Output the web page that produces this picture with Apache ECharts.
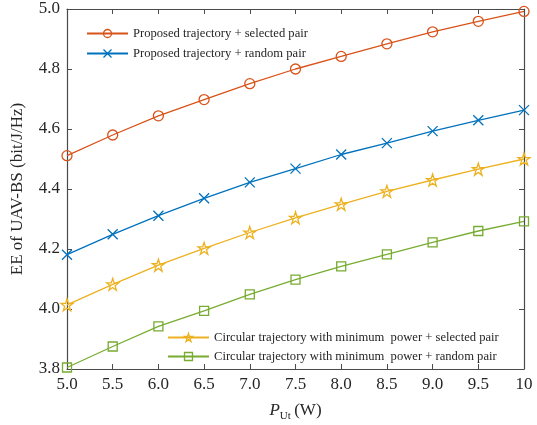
<!DOCTYPE html>
<html>
<head>
<meta charset="utf-8">
<script src="https://cdn.jsdelivr.net/npm/echarts@6/dist/echarts.min.js"></script>
<style>
  html, body { margin: 0; padding: 0; background: #fff; }
  #chart { width: 537px; height: 425px; }
</style>
</head>
<body>
<div id="chart"></div>
<script>
// Transmit power of the UAV-BS (W)
const powerW = [5.0, 5.5, 6.0, 6.5, 7.0, 7.5, 8.0, 8.5, 9.0, 9.5, 10];

// Energy efficiency (bit/J/Hz) for each scheme
const proposedSelected = [4.511, 4.580, 4.644, 4.698, 4.751, 4.800, 4.842, 4.884, 4.924, 4.959, 4.992];
const proposedRandom   = [4.181, 4.249, 4.311, 4.369, 4.422, 4.468, 4.515, 4.553, 4.593, 4.629, 4.663];
const circularSelected = [4.014, 4.082, 4.146, 4.202, 4.255, 4.304, 4.349, 4.392, 4.430, 4.466, 4.500];
const circularRandom   = [3.805, 3.875, 3.942, 3.994, 4.049, 4.098, 4.142, 4.182, 4.222, 4.260, 4.292];

const seriesNames = [
  'Proposed trajectory + selected pair',
  'Proposed trajectory + random pair',
  'Circular trajectory with minimum  power + selected pair',
  'Circular trajectory with minimum  power + random pair'
];

const yTicks = [3.8, 4.0, 4.2, 4.4, 4.6, 4.8, 5.0];

const colors = ['#D95319', '#0072BD', '#EDB120', '#77AC30'];
const FONT = '"Liberation Serif", "Times New Roman", serif';
const AXIS = '#4a4a4a';
const TEXT = '#262626';

const crossPath = 'path://M0,0L10,10M10,0L0,10';
const starPath = 'path://M50,2 L61,36 L97,36 L68,57 L79,92 L50,71 L21,92 L32,57 L3,36 L39,36 Z';

const symbols = ['circle', crossPath, starPath, 'rect'];
const symbolSizes = [10, 10, 12, 9];
const valueSets = [proposedSelected, proposedRandom, circularSelected, circularRandom];

const chart = echarts.init(document.getElementById('chart'), null, { renderer: 'canvas' });

const series = valueSets.map((vals, i) => ({
  name: seriesNames[i],
  type: 'line',
  color: colors[i],
  data: powerW.map((x, k) => [x, vals[k]]),
  symbol: symbols[i],
  symbolSize: symbolSizes[i],
  showAllSymbol: true,
  lineStyle: { color: colors[i], width: 1.3 },
  itemStyle: { color: '#ffffff00', borderColor: colors[i], borderWidth: 1.3 },
  emphasis: { disabled: true },
  animation: false,
  z: 3
}));

// legend entries keep the hollow marker drawn on the line sample
const legendItems = idx => idx.map(i => ({
  name: seriesNames[i],
  itemStyle: { color: '#ffffff00', borderColor: colors[i], borderWidth: 1.3 }
}));

const legendText = { fontFamily: FONT, fontSize: 12.6, color: TEXT };

const axisLineStyle = { lineStyle: { color: AXIS, width: 1.2 } };

chart.setOption({
  backgroundColor: '#fff',
  animation: false,
  grid: { left: 67, right: 13, top: 9, bottom: 56, containLabel: false, outerBoundsMode: 'none' },
  legend: [
    {
      data: legendItems([0, 1]),
      left: 81, top: 22,
      orient: 'vertical',
      itemWidth: 41, itemHeight: 10, itemGap: 7,
      textStyle: legendText,
      selectedMode: false
    },
    {
      data: legendItems([2, 3]),
      left: 162, top: 326,
      orient: 'vertical',
      itemWidth: 41, itemHeight: 10, itemGap: 6,
      textStyle: legendText,
      selectedMode: false
    }
  ],
  xAxis: [
    {
      type: 'value', min: 5, max: 10, interval: 0.5,
      position: 'bottom',
      axisLine: axisLineStyle,
      axisTick: { inside: true, length: 5, lineStyle: { color: AXIS } },
      splitLine: { show: false },
      axisLabel: {
        fontFamily: FONT, fontSize: 17, color: TEXT, margin: 7,
        formatter: v => (v === 10 ? '10' : v.toFixed(1))
      },
      name: '{p|P}{s|Ut} {w|(W)}',
      nameLocation: 'middle',
      nameGap: 30,
      nameTextStyle: {
        rich: {
          p: { fontFamily: FONT, fontSize: 17, fontStyle: 'italic', color: TEXT },
          s: { fontFamily: FONT, fontSize: 11, color: TEXT, verticalAlign: 'bottom', padding: [12, 0, 0, 0] },
          w: { fontFamily: FONT, fontSize: 17, color: TEXT }
        }
      }
    },
    {
      type: 'value', min: 5, max: 10, interval: 0.5,
      position: 'top',
      axisLine: axisLineStyle,
      axisTick: { inside: true, length: 5, lineStyle: { color: AXIS } },
      axisLabel: { show: false },
      splitLine: { show: false }
    }
  ],
  yAxis: [
    {
      type: 'value', min: yTicks[0], max: yTicks[yTicks.length - 1], interval: 0.2,
      position: 'left',
      axisLine: { show: true, ...axisLineStyle },
      axisTick: { show: true, inside: true, length: 5, lineStyle: { color: AXIS } },
      splitLine: { show: false },
      axisLabel: {
        fontFamily: FONT, fontSize: 17, color: TEXT, margin: 7,
        formatter: v => v.toFixed(1)
      },
      name: 'EE of UAV-BS (bit/J/Hz)',
      nameLocation: 'middle',
      nameGap: 41,
      nameTextStyle: { fontFamily: FONT, fontSize: 17, color: TEXT }
    },
    {
      type: 'value', min: yTicks[0], max: yTicks[yTicks.length - 1], interval: 0.2,
      position: 'right',
      axisLine: { show: true, ...axisLineStyle },
      axisTick: { show: true, inside: true, length: 5, lineStyle: { color: AXIS } },
      axisLabel: { show: false },
      splitLine: { show: false }
    }
  ],
  series: series
});
</script>
</body>
</html>
